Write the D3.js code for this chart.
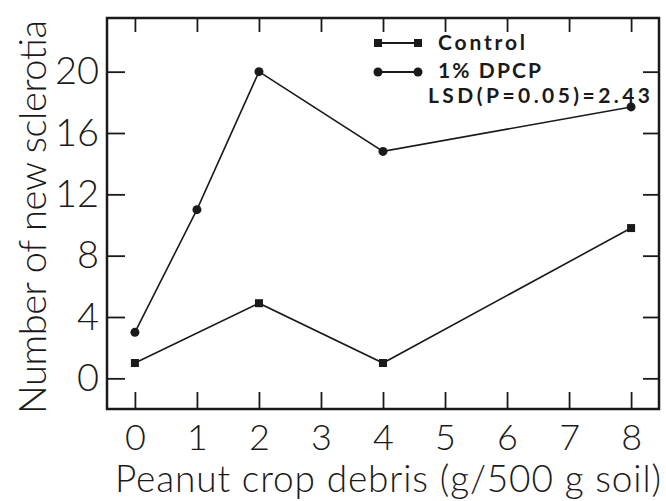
<!DOCTYPE html>
<html lang="en">
<head>
    <meta charset="UTF-8">
    <title>Sclerotia chart</title>
    <script src="https://d3js.org/d3.v7.min.js"></script>
    <style>
        body { margin: 0; background: #fff; }
        text { font-family: Lato, "Open Sans", sans-serif; fill: #1a1a1a; }
    </style>
</head>
<body>
    <svg width="666" height="501"></svg>

    <script>
        // data
        const controlX = [0, 2, 4, 8];
        const controlY = [1.0, 4.9, 1.0, 9.8];
        const dpcpX = [0, 1, 2, 4, 8];
        const dpcpY = [3.0, 11.0, 20.0, 14.8, 17.7];
        const xTicks = [0, 1, 2, 3, 4, 5, 6, 7, 8];
        const yTicks = [0, 4, 8, 12, 16, 20];

        const svg = d3.select('svg');
        const ink = '#1a1a1a';

        const x = d3.scaleLinear().domain([-0.45, 8.45]).range([107, 659]);
        const y = d3.scaleLinear().domain([-2, 23.5]).range([409, 18]);

        // frame
        svg.append('rect')
            .attr('x', x(-0.45)).attr('y', y(23.5))
            .attr('width', x(8.45) - x(-0.45))
            .attr('height', y(-2) - y(23.5))
            .attr('fill', 'none').attr('stroke', ink).attr('stroke-width', 2.5);

        // axes with inward ticks
        const axLeft = svg.append('g').attr('transform', `translate(${x(-0.45)},0)`)
            .call(d3.axisLeft(y).tickValues(yTicks).tickSizeInner(-18).tickSizeOuter(0).tickPadding(8));
        const axRight = svg.append('g').attr('transform', `translate(${x(8.45)},0)`)
            .call(d3.axisRight(y).tickValues(yTicks).tickSizeInner(-16).tickSizeOuter(0).tickFormat(''));
        const axBottom = svg.append('g').attr('transform', `translate(0,${y(-2)})`)
            .call(d3.axisBottom(x).tickValues(xTicks).tickSizeInner(-17).tickSizeOuter(0).tickPadding(15));
        const axTop = svg.append('g').attr('transform', `translate(0,${y(23.5)})`)
            .call(d3.axisTop(x).tickValues(xTicks).tickSizeInner(-14).tickSizeOuter(0).tickFormat(''));

        [axLeft, axRight, axBottom, axTop].forEach(g => {
            g.select('.domain').remove();
            g.selectAll('line').attr('stroke', ink).attr('stroke-width', 1.8);
        });
        axLeft.selectAll('text').attr('font-size', 38).attr('font-weight', 300).attr('fill', ink)
            .style('font-family', 'Lato, sans-serif');
        axBottom.selectAll('text').attr('font-size', 36).attr('font-weight', 300).attr('fill', ink)
            .style('font-family', 'Lato, sans-serif');

        // axis titles
        svg.append('text')
            .attr('x', 115).attr('y', 492)
            .attr('font-size', 37).attr('font-weight', 300)
            .attr('textLength', 546).attr('lengthAdjust', 'spacing')
            .text('Peanut crop debris (g/500 g soil)');

        svg.append('text')
            .attr('transform', 'translate(46,414) rotate(-90)')
            .attr('font-size', 38).attr('font-weight', 300)
            .attr('textLength', 394).attr('lengthAdjust', 'spacing')
            .text('Number of new sclerotia');

        // series
        const line = d3.line().x(d => x(d[0])).y(d => y(d[1]));
        const control = controlX.map((v, i) => [v, controlY[i]]);
        const dpcp = dpcpX.map((v, i) => [v, dpcpY[i]]);

        [control, dpcp].forEach(s => {
            svg.append('path').datum(s)
                .attr('d', line)
                .attr('fill', 'none').attr('stroke', ink).attr('stroke-width', 1.6);
        });

        svg.selectAll('.sq').data(control).enter().append('rect')
            .attr('x', d => x(d[0]) - 4).attr('y', d => y(d[1]) - 4)
            .attr('width', 8).attr('height', 8).attr('fill', ink);

        svg.selectAll('.dot').data(dpcp).enter().append('circle')
            .attr('cx', d => x(d[0])).attr('cy', d => y(d[1]))
            .attr('r', 4.5).attr('fill', ink);

        // legend
        const lg = svg.append('g');
        lg.append('line').attr('x1', 378).attr('x2', 418).attr('y1', 43).attr('y2', 43)
            .attr('stroke', ink).attr('stroke-width', 1.8);
        lg.append('rect').attr('x', 374).attr('y', 39).attr('width', 8).attr('height', 8).attr('fill', ink);
        lg.append('rect').attr('x', 414).attr('y', 39).attr('width', 8).attr('height', 8).attr('fill', ink);
        lg.append('line').attr('x1', 378).attr('x2', 418).attr('y1', 72).attr('y2', 72)
            .attr('stroke', ink).attr('stroke-width', 1.8);
        lg.append('circle').attr('cx', 378).attr('cy', 72).attr('r', 4.5).attr('fill', ink);
        lg.append('circle').attr('cx', 418).attr('cy', 72).attr('r', 4.5).attr('fill', ink);

        lg.append('text').attr('x', 438).attr('y', 50)
            .attr('font-size', 21).attr('font-weight', 'bold')
            .attr('textLength', 87).attr('lengthAdjust', 'spacing')
            .text('Control');
        lg.append('text').attr('x', 438).attr('y', 78)
            .attr('font-size', 21).attr('font-weight', 'bold')
            .attr('textLength', 103).attr('lengthAdjust', 'spacing')
            .text('1% DPCP');
        lg.append('text').attr('x', 428).attr('y', 103)
            .attr('font-size', 21).attr('font-weight', 'bold')
            .attr('textLength', 222).attr('lengthAdjust', 'spacing')
            .text('LSD(P=0.05)=2.43');
    </script>
</body>
</html>
